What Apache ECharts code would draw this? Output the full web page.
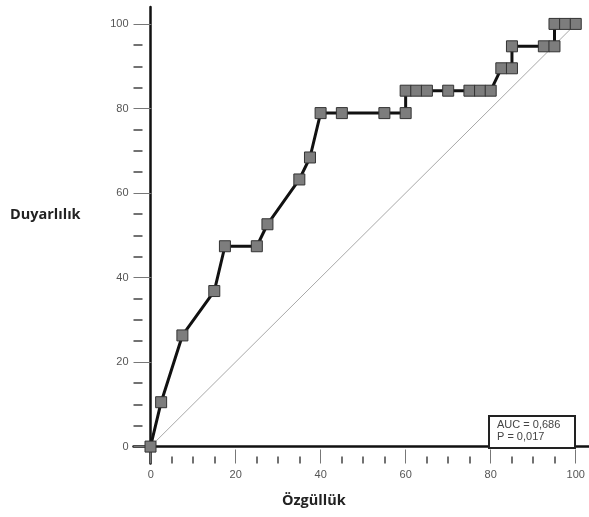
<!DOCTYPE html>
<html>
<head>
<meta charset="utf-8">
<script src="https://cdn.jsdelivr.net/npm/echarts@6/dist/echarts.min.js"></script>
<style>html,body{margin:0;padding:0;background:#fff}#c{width:589px;height:517px}</style>
</head>
<body>
<div id="c"></div>
<script>
// 1 - Specificity (%) values (x) and Sensitivity (%) values (y)
var specificity = [0, 2.5, 7.5, 15, 17.5, 25, 27.5, 35, 37.5, 40, 45, 55, 60, 60, 62.5, 65, 70, 75, 77.5, 80, 82.5, 85, 85, 92.5, 95, 95, 97.5, 100];
var sensitivity = [0, 10.5, 26.3, 36.8, 47.4, 47.4, 52.6, 63.2, 68.4, 78.9, 78.9, 78.9, 78.9, 84.2, 84.2, 84.2, 84.2, 84.2, 84.2, 84.2, 89.5, 89.5, 94.7, 94.7, 94.7, 100, 100, 100];
var refLine = [[0, 0], [100, 100]];
var tickLabels = [0, 20, 40, 60, 80, 100];
var yTitle = 'Duyarlılık';
var xTitle = 'Özgüllük';
var statLines = ['AUC = 0,686', 'P = 0,017'];

var chart = echarts.init(document.getElementById('c'));
var rocData = specificity.map(function (v, i) { return [v, sensitivity[i]]; });
var tickFont = { color: '#555', fontSize: 11, fontFamily: 'Liberation Sans, Arial, sans-serif' };

chart.setOption({
  animation: false,
  grid: [
    { left: 133.5, right: 0.5, top: 7, bottom: 53.5 },       // main plot
    { left: 150.7, right: 13.3, top: 7, bottom: 53.5 },      // x ticks
    { left: 133.5, right: 0.5, top: 24, bottom: 70.5 }       // y ticks
  ],
  xAxis: [
    { gridIndex: 0, type: 'value', min: -4, max: 103,
      axisLine: { show: true, lineStyle: { color: '#111', width: 2.5 } },
      axisTick: { show: false }, axisLabel: { show: false }, splitLine: { show: false } },
    { gridIndex: 1, type: 'value', min: 0, max: 100, interval: 20,
      axisLine: { show: false },
      axisTick: { show: true, inside: true, length: 14, lineStyle: { color: '#777', width: 1 } },
      minorTick: { show: true, splitNumber: 4, length: 7, lineStyle: { color: '#444', width: 1.5 } },
      axisLabel: Object.assign({ margin: 6, formatter: function (v) { return tickLabels.indexOf(v) >= 0 ? String(v) : ''; } }, tickFont),
      splitLine: { show: false } },
    { gridIndex: 2, type: 'value', min: 0, max: 100, show: false }
  ],
  yAxis: [
    { gridIndex: 0, type: 'value', min: -4, max: 104,
      axisLine: { show: true, lineStyle: { color: '#111', width: 2.5 } },
      axisTick: { show: false }, axisLabel: { show: false }, splitLine: { show: false } },
    { gridIndex: 1, type: 'value', min: 0, max: 100, show: false },
    { gridIndex: 2, type: 'value', min: 0, max: 100, interval: 20,
      axisLine: { show: false },
      axisTick: { show: true, inside: true, length: 18, lineStyle: { color: '#777', width: 1 } },
      minorTick: { show: true, splitNumber: 4, length: 9, lineStyle: { color: '#444', width: 1.5 } },
      axisLabel: Object.assign({ margin: 5, formatter: function (v) { return tickLabels.indexOf(v) >= 0 ? String(v) : ''; } }, tickFont),
      splitLine: { show: false } }
  ],
  series: [
    { type: 'line', xAxisIndex: 0, yAxisIndex: 0, data: refLine, symbol: 'none', silent: true,
      lineStyle: { color: '#a8a8a8', width: 1 }, z: 1 },
    { type: 'line', xAxisIndex: 0, yAxisIndex: 0, data: rocData, symbol: 'rect', symbolSize: 11,
      lineStyle: { color: '#111', width: 3 },
      itemStyle: { color: '#7d7d7d', borderColor: '#333', borderWidth: 1 }, z: 3 }
  ],
  graphic: [
    { type: 'text', left: 10, top: 207, style: { text: yTitle, font: 'bold 14.5px "Open Sans", sans-serif', fill: '#222' } },
    { type: 'text', left: 282, top: 493, style: { text: xTitle, font: 'bold 14.5px "Open Sans", sans-serif', fill: '#222' } },
    { type: 'rect', shape: { x: 489, y: 416, width: 86, height: 32 }, style: { fill: '#fff', stroke: '#222', lineWidth: 2 }, z: 10 },
    { type: 'text', x: 497, y: 419, style: { text: statLines.join('\n'), font: '11px "Liberation Sans", Arial, sans-serif', fill: '#444', lineHeight: 12 }, z: 11 }
  ]
});
</script>
</body>
</html>
